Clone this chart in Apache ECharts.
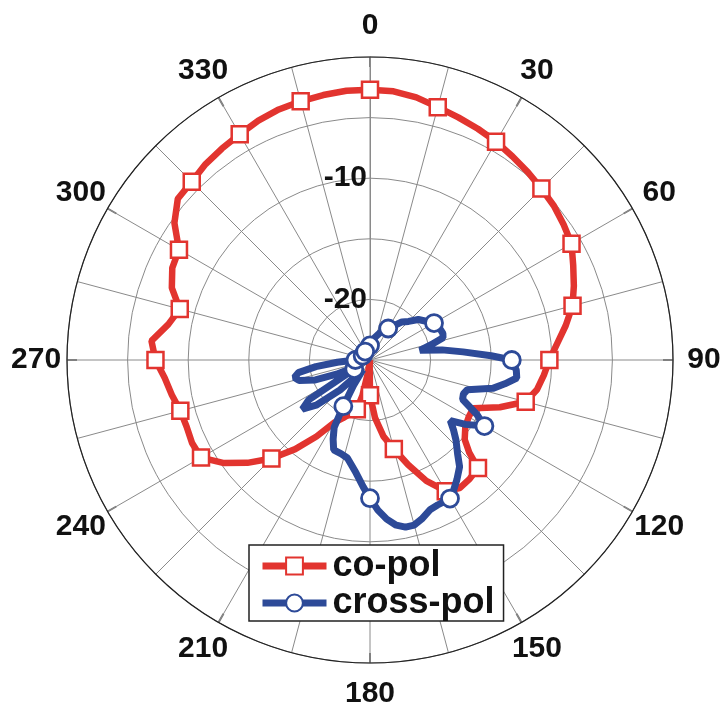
<!DOCTYPE html>
<html>
<head>
<meta charset="utf-8">
<script src="https://cdn.jsdelivr.net/npm/echarts@6/dist/echarts.min.js"></script>
<style>
html,body{margin:0;padding:0;background:#fff;}
#chart{width:727px;height:709px;}
</style>
</head>
<body>
<div id="chart"></div>
<script>
// ---- data (angle in degrees, level in dB) ----
var coPolAngle = [0,5,10,15,20,25,30,35,40,45,50,55,60,65,70,75,80,85,90,95,100,105,110,115,120,125,130,133,135,140,145,150,155,160,165,170,175,180,183,186,189,192,195,200,205,210,215,220,225,230,235,240,245,250,255,260,265,270,275,280,285,290,295,300,305,310,315,320,325,330,335,340,345,350,355,360];
var coPolDb = [-2.7,-2.75,-3.0,-3.4,-3.7,-3.95,-4.2,-4.5,-4.75,-5.0,-5.2,-5.5,-5.8,-6.5,-7.1,-7.7,-8.6,-9.5,-10.2,-10.6,-11.0,-11.7,-13.6,-15.6,-15.6,-15.4,-14.8,-13.8,-12.4,-12.2,-12.1,-12.5,-14.0,-15.8,-17.4,-18.6,-20.2,-22.1,-24.5,-25,-24,-22,-20.8,-20.3,-19.7,-19.0,-17.3,-15.4,-13.5,-11.8,-10.2,-8.9,-8.8,-8.9,-8.8,-8.4,-8.0,-7.3,-6.9,-8.1,-8.75,-7.6,-7.0,-6.8,-5.3,-4.3,-4.2,-3.9,-3.7,-3.5,-3.2,-3.0,-2.9,-2.8,-2.7,-2.7];
var coPolMarkAngle = [0,15,30,45,60,75,90,105,135,150,165,180,195,225,240,255,270,285,300,315,330,345];

var crossPolAngle = [0,10,20,30,40,45,50,60,65,70,73,76,79,82,85,88,90,94,97,100,103,107,110,113,117,120,124,127,130,133,137,140,144,148,150,155,158,162,165,168,171,174,177,180,183,187,190,193,197,202,205,208,210,213,216,220,225,230,234,237,240,243,247,250,254,257,260,263,266,270,280,290,300,310,320,330,340,350,360];
var crossPolDb = [-23.8,-23.2,-22.6,-22.0,-20.9,-20.5,-19.8,-18.9,-18.7,-18.6,-18.7,-19.8,-20.8,-19.0,-17.3,-15.0,-13.3,-12.9,-12.8,-13.7,-14.6,-16.6,-16.8,-16.7,-15.1,-14.1,-15.5,-16.7,-16.0,-15.3,-14.4,-13.5,-12.8,-12.1,-11.8,-11.8,-11.7,-11.2,-10.9,-10.9,-11.2,-11.8,-12.6,-13.6,-14.5,-15.6,-16.2,-16.7,-16.9,-17.0,-17.8,-18.7,-20.6,-22.5,-24.0,-23.5,-21.5,-19.2,-18.1,-19.0,-23.5,-24.2,-22.0,-20.2,-18.9,-18.6,-19.0,-20.5,-22.3,-23.8,-24.3,-24.4,-24.3,-24.3,-24.3,-24.2,-24.1,-24.0,-23.8];
var crossPolMarkAngle = [0,30,60,90,120,150,180,210,240,270,300,330];

var angleTicks = [0,30,60,90,120,150,180,210,240,270,300,330];
var radiusLabels = [-10,-20];

var seriesNames = ['co-pol','cross-pol'];

function build(angles, vals, marks){
  return angles.map(function(a,i){
    if (marks.indexOf(a) >= 0) return [vals[i], a];
    return {value:[vals[i], a], symbol:'none'};
  });
}

var FONT = '"Liberation Sans", Arial, sans-serif';
var RED = '#e2342f';
var BLUE = '#2d4a98';
var R_MIN = -25, R_MAX = 0;

var chart = echarts.init(document.getElementById('chart'));
chart.setOption({
  animation:false,
  backgroundColor:'#fff',
  polar:{center:[370,360], radius:303},
  angleAxis:{
    type:'value', min:0, max:360, interval:30, startAngle:90, clockwise:true,
    axisLine:{show:true, lineStyle:{color:'#222', width:1.2}},
    axisTick:{show:true, inside:true, length:10, lineStyle:{color:'#777', width:2}},
    minorTick:{show:false, splitNumber:2},
    splitLine:{show:true, lineStyle:{color:'#8a8a8a', width:1}},
    minorSplitLine:{show:true, lineStyle:{color:'#8a8a8a', width:1}},
    axisLabel:{show:false}
  },
  radiusAxis:{
    type:'value', min:R_MIN, max:R_MAX, interval:5,
    axisLine:{show:true, lineStyle:{color:'#8a8a8a', width:1}},
    axisTick:{show:false},
    splitLine:{show:true, lineStyle:{color:'#8a8a8a', width:1}},
    axisLabel:{
      margin:3, fontSize:30, fontWeight:'bold', fontFamily:FONT, color:'#111',
      formatter:function(v){ return radiusLabels.indexOf(v) >= 0 ? String(v) : ''; }
    }
  },
  legend:{
    data:seriesNames, orient:'vertical', left:249, top:545,
    backgroundColor:'#fff', borderColor:'#222', borderWidth:1.5,
    padding:[3,9,0,10], itemWidth:64, itemHeight:21, itemGap:1,
    lineStyle:{width:7},
    textStyle:{fontSize:36, fontWeight:'bold', fontFamily:FONT, color:'#111', padding:[0,0,0,1]}
  },
  series:[
    {
      name:seriesNames[0], type:'line', coordinateSystem:'polar',
      data:build(coPolAngle, coPolDb, coPolMarkAngle),
      symbol:'rect', symbolSize:16, showAllSymbol:true,
      lineStyle:{color:RED, width:6.5},
      itemStyle:{color:'#fff', borderColor:RED, borderWidth:2.5},
      z:2
    },
    {
      name:seriesNames[1], type:'line', coordinateSystem:'polar',
      data:build(crossPolAngle, crossPolDb, crossPolMarkAngle),
      symbol:'circle', symbolSize:17, showAllSymbol:true,
      lineStyle:{color:BLUE, width:7},
      itemStyle:{color:'#fff', borderColor:BLUE, borderWidth:2.8},
      z:3
    }
  ]
});

// angle tick labels: centred a fixed distance outside the outer circle,
// positions derived from the polar coordinate system itself
var labelEls = [];
try {
  var c = chart.convertToPixel({seriesIndex:0}, [R_MIN, 0]);
  angleTicks.forEach(function(a){
    var p = chart.convertToPixel({seriesIndex:0}, [R_MAX, a]);
    var k = 1.102;
    labelEls.push({
      type:'text', silent:true, z:10,
      x: c[0] + (p[0]-c[0])*k, y: c[1] + (p[1]-c[1])*k,
      style:{text:String(a), fontSize:30, fontWeight:'bold', fontFamily:FONT, fill:'#111',
             align:'center', verticalAlign:'middle'}
    });
  });
  chart.setOption({graphic:{elements:labelEls}});
} catch(e) {}
</script>
</body>
</html>
